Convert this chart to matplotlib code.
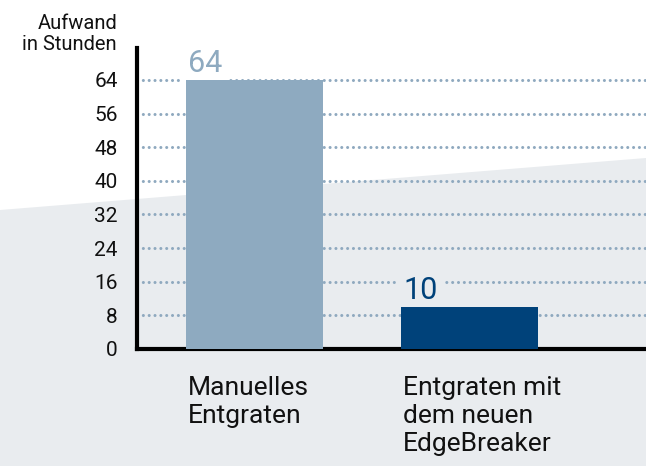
import matplotlib
matplotlib.use('Agg')
import matplotlib.pyplot as plt
from matplotlib.patches import Polygon
import matplotlib.transforms as mtransforms

categories = ['Manuelles\nEntgraten', 'Entgraten mit\ndem neuen\nEdgeBreaker']
hours      = [64, 10]
yticks     = [0, 8, 16, 24, 32, 40, 48, 56, 64]

bar_colors   = ['#8eaac0', '#00427a']
label_colors = ['#8eaac0', '#00427a']
bg_gray      = '#e9ecef'
grid_color   = '#8fa9bf'

plt.rcParams['font.family'] = ['Roboto', 'DejaVu Sans']

fig = plt.figure(figsize=(6.46, 4.66), dpi=100)
fig.patch.set_facecolor('white')

# slanted grey background
bg = Polygon([(0, 1 - 210/466), (1, 1 - 158/466), (1, 0), (0, 0)],
             closed=True, transform=fig.transFigure, facecolor=bg_gray,
             edgecolor='none', zorder=-1)
fig.patches.append(bg)

ax = fig.add_axes([137/646, (466-349)/466, (646-137)/646, (349-48)/466])
ax.set_facecolor('none')

x = list(range(len(hours)))
ax.bar(x, hours, width=0.637, color=bar_colors, zorder=3)

ax.set_xlim(-0.5465, 1.821)
ax.set_ylim(0, 71.6)
ax.set_yticks(yticks)
ax.set_yticklabels([str(t) for t in yticks], fontsize=15, color='#111111')
ax.tick_params(axis='y', length=0, pad=14)
ax.set_xticks([])

for t in yticks[1:]:
    ax.axhline(t, color=grid_color, lw=2.2, linestyle=(0, (0.01, 1.9)),
               dash_capstyle='round', zorder=1)

for s in ['top', 'right']:
    ax.spines[s].set_visible(False)
ax.spines['left'].set_linewidth(3)
ax.spines['bottom'].set_linewidth(3)

# value labels, boxed so the dotted grid breaks around them
bg_for_label = ['white', bg_gray]
for xi, v, c, b in zip(x, hours, label_colors, bg_for_label):
    ax.text(xi - 0.637/2 + 0.01, v + 1.9, str(v), fontsize=22, color=c,
            ha='left', va='baseline', zorder=2,
            bbox=dict(boxstyle='square,pad=0.2', facecolor=b, edgecolor='none'))

trans = mtransforms.blended_transform_factory(ax.transData, fig.transFigure)
for xi, cat in zip(x, categories):
    ax.text(xi - 0.637/2 + 0.01, 1 - 376/466, cat, transform=trans,
            fontsize=19, color='#111111', ha='left', va='top',
            linespacing=1.2, clip_on=False)

fig.text(117/646, 1 - 14/466, 'Aufwand\nin Stunden', fontsize=14.5,
         color='#111111', ha='right', va='top', linespacing=1.15)

fig.savefig('out.png', dpi=100)
